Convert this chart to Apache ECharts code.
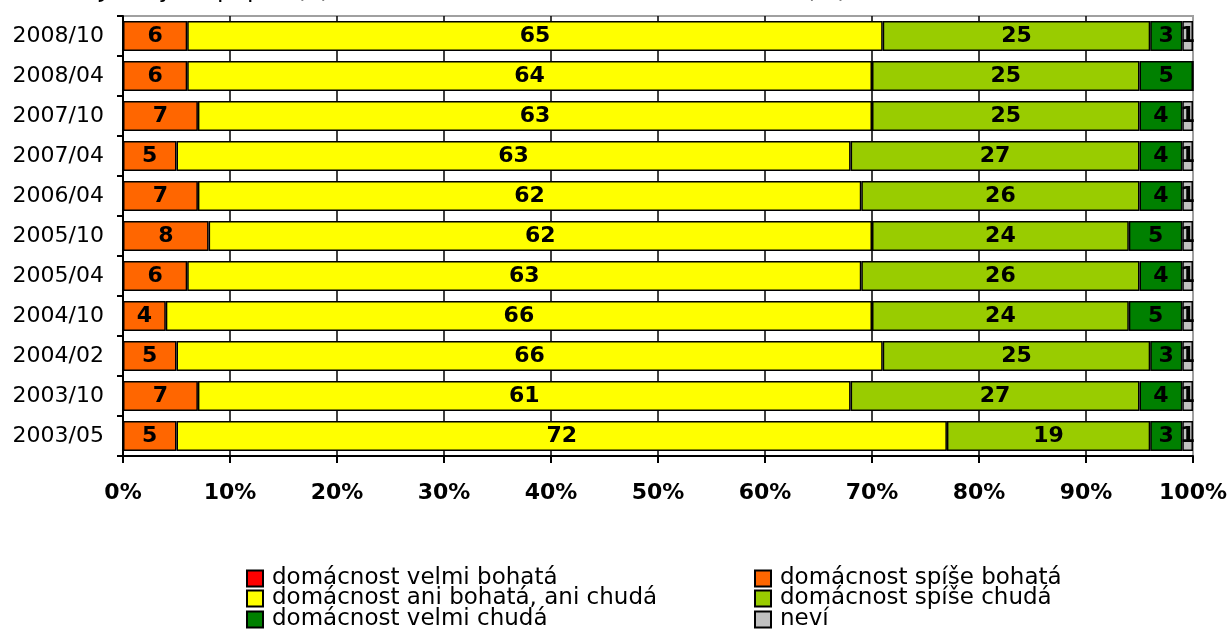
<!DOCTYPE html>
<html>
<head>
<meta charset="utf-8">
<script src="https://cdn.jsdelivr.net/npm/echarts@6/dist/echarts.min.js"></script>
<style>
html,body{margin:0;padding:0;background:#fff;}
#chart{width:1232px;height:630px;}
</style>
</head>
<body>
<div id="chart"></div>
<script>
const titleText = 'Jak byste popsal(a) ekonomickou situaci Vaší domácnosti? (%)';
const categories = ['2003/05','2003/10','2004/02','2004/10','2005/04','2005/10','2006/04','2007/04','2007/10','2008/04','2008/10'];
const seriesNames = ['domácnost velmi bohatá','domácnost spíše bohatá','domácnost ani bohatá, ani chudá','domácnost spíše chudá','domácnost velmi chudá','neví'];
const velmiBohata = [0,0,0,0,0,0,0,0,0,0,0];
const spiseBohata = [5,7,5,4,6,8,7,5,7,6,6];
const aniAni      = [72,61,66,66,63,62,62,63,63,64,65];
const spiseChuda  = [19,27,25,24,26,24,26,27,25,25,25];
const velmiChuda  = [3,4,3,5,4,5,4,4,4,5,3];
const nevi        = [1,1,1,1,1,1,1,1,1,0,1];
const xTicks = [0,10,20,30,40,50,60,70,80,90,100];
const colors = ['#FF0000','#FF6600','#FFFF00','#99CC00','#008000','#C0C0C0'];
const seriesData = [velmiBohata, spiseBohata, aniAni, spiseChuda, velmiChuda, nevi];

const FONT = 'DejaVu Sans';
const chart = echarts.init(document.getElementById('chart'));
const splitColors = xTicks.map((t,i)=> i === xTicks.length-1 ? '#a0a0a0' : '#000');

// legend placement: two columns, three rows (column-major order as in the reference)
const legendCols = [246, 754];
const legendRows = [567, 587, 608];
const legends = seriesNames.map((name,i)=>({
  data:[name],
  left: legendCols[i % 2],
  top: legendRows[Math.floor(i / 2)],
  padding:0, itemWidth:16, itemHeight:16, itemGap:0,
  icon:'rect', selectedMode:false,
  itemStyle:{borderColor:'#000',borderWidth:2},
  textStyle:{fontFamily:FONT,fontSize:23,color:'#000',padding:[0,0,0,4]}
}));

chart.setOption({
  animation:false,
  backgroundColor:'#fff',
  textStyle:{fontFamily:FONT},
  title:{
    text:titleText, left:95, top:-26,
    textStyle:{fontFamily:FONT,fontSize:24,fontWeight:'normal',color:'#000'}
  },
  grid:{left:123,right:39,top:16,bottom:174,show:true,borderColor:'#a0a0a0',borderWidth:2,backgroundColor:'#fff'},
  legend:legends,
  xAxis:{
    type:'value', min:0, max:100, interval:10,
    axisLine:{show:true,lineStyle:{color:'#000',width:2}},
    axisTick:{show:true,length:7,lineStyle:{color:'#000',width:2}},
    axisLabel:{formatter:'{value}%',fontFamily:FONT,fontSize:22,fontWeight:'bold',color:'#000',margin:26},
    splitLine:{show:true,lineStyle:{color:splitColors,width:1.5}}
  },
  yAxis:{
    type:'category', data:categories,
    axisLine:{show:true,lineStyle:{color:'#000',width:2}},
    axisTick:{show:true,length:6,lineStyle:{color:'#000',width:2}},
    axisLabel:{fontFamily:FONT,fontSize:22,color:'#000',margin:19},
    splitLine:{show:false}
  },
  series: seriesNames.map((name,i)=>({
    name:name, type:'bar', stack:'total', barCategoryGap:'25%',
    data:seriesData[i],
    itemStyle:{color:colors[i],borderColor:'#000',borderWidth:1.5},
    label:{
      show:true, position:'inside', fontFamily:FONT, fontSize:22, fontWeight:'bold', color:'#000',
      formatter:p=> p.value > 0 ? String(p.value) : ''
    }
  }))
});
</script>
</body>
</html>
